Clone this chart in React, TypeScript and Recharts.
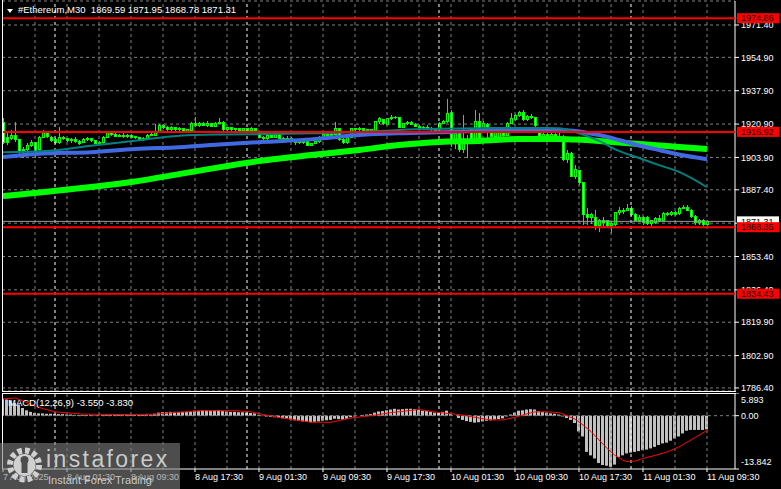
import React from "react";
import { ComposedChart, Bar, Line, XAxis, YAxis, ReferenceLine, CartesianGrid } from "recharts";

const FONT = "'Liberation Sans', Arial, sans-serif";

// --- price bars (M30), index 0 = 7 Aug 17:30, 176 = 11 Aug 09:30 ---
const opens = [
  1921.5, 1914.3, 1913.8, 1915.3, 1912.8, 1907.2, 1907.7, 1910.2, 1911.3, 1907.7,
  1914.3, 1916.4, 1914.3, 1912.8, 1911.3, 1914.3, 1913.3, 1912.3, 1913.0, 1912.0,
  1911.3, 1912.8, 1913.5, 1912.5, 1911.0, 1911.3, 1914.3, 1916.4, 1915.5, 1914.8,
  1915.3, 1914.5, 1915.3, 1914.3, 1914.0, 1912.8, 1913.5, 1915.3, 1915.3, 1916.9,
  1920.4, 1919.4, 1917.9, 1918.9, 1917.9, 1918.4, 1917.2, 1917.4, 1921.4, 1920.0,
  1921.4, 1920.4, 1921.0, 1919.9, 1921.4, 1921.9, 1917.9, 1918.9, 1917.9, 1918.4,
  1917.4, 1918.4, 1917.6, 1918.6, 1917.0, 1914.3, 1913.3, 1915.0, 1914.3, 1915.5,
  1913.8, 1912.8, 1913.8, 1911.8, 1911.3, 1911.8, 1911.8, 1910.2, 1911.0, 1911.8,
  1914.3, 1915.5, 1915.0, 1915.8, 1918.4, 1913.0, 1911.3, 1914.3, 1918.4, 1917.9,
  1918.6, 1917.4, 1917.9, 1917.4, 1922.0, 1923.0, 1920.9, 1923.5, 1924.5, 1924.0,
  1919.4, 1921.0, 1921.9, 1920.9, 1919.9, 1918.9, 1919.4, 1918.6, 1917.9, 1917.9,
  1921.4, 1922.0, 1927.0, 1912.8, 1916.0, 1907.7, 1911.3, 1917.9, 1912.3, 1922.0,
  1916.9, 1920.9, 1916.9, 1914.8, 1914.3, 1917.9, 1915.3, 1921.4, 1923.0, 1925.5,
  1927.0, 1923.0, 1925.0, 1924.0, 1917.9, 1914.3, 1915.8, 1914.5, 1915.8, 1914.8,
  1914.3, 1902.6, 1906.1, 1894.4, 1897.0, 1890.9, 1874.6, 1873.5, 1873.5, 1869.0,
  1871.5, 1871.5, 1869.0, 1869.5, 1875.6, 1876.1, 1877.1, 1878.1, 1874.6, 1872.0,
  1873.5, 1873.5, 1870.0, 1870.5, 1873.0, 1872.0, 1875.1, 1874.6, 1875.6, 1875.1,
  1878.1, 1878.6, 1877.1, 1873.8, 1870.5, 1871.5, 1869.59,
];
const highs = [
  1924.0, 1917.0, 1918.0, 1922.0, 1913.5, 1909.2, 1911.0, 1912.8, 1912.0, 1915.0,
  1918.0, 1917.4, 1915.0, 1913.8, 1919.4, 1915.0, 1914.0, 1914.0, 1914.3, 1913.0,
  1913.8, 1914.5, 1914.0, 1913.0, 1912.3, 1915.0, 1917.0, 1917.0, 1916.4, 1916.0,
  1916.4, 1916.0, 1916.0, 1915.0, 1914.5, 1914.3, 1916.0, 1916.4, 1920.9, 1921.0,
  1921.0, 1920.0, 1919.8, 1919.4, 1919.4, 1919.0, 1918.4, 1922.0, 1924.5, 1922.0,
  1922.0, 1922.3, 1921.5, 1922.0, 1924.0, 1922.3, 1919.4, 1919.4, 1919.0, 1918.9,
  1919.0, 1918.9, 1919.2, 1919.0, 1917.6, 1914.8, 1916.4, 1916.4, 1916.4, 1916.4,
  1914.3, 1914.8, 1914.3, 1912.3, 1912.5, 1912.3, 1912.3, 1911.5, 1912.3, 1914.8,
  1916.4, 1916.4, 1916.4, 1922.0, 1919.0, 1913.8, 1914.8, 1919.0, 1919.0, 1919.2,
  1919.0, 1918.4, 1918.4, 1922.5, 1924.5, 1923.5, 1924.0, 1925.5, 1925.0, 1924.5,
  1921.5, 1922.5, 1922.3, 1921.4, 1920.4, 1920.0, 1920.4, 1919.4, 1918.9, 1922.0,
  1923.0, 1933.5, 1928.0, 1918.0, 1917.0, 1925.5, 1915.3, 1918.9, 1928.0, 1926.5,
  1922.3, 1921.4, 1917.4, 1917.4, 1918.4, 1918.4, 1922.0, 1926.5, 1926.0, 1927.6,
  1928.1, 1925.5, 1926.0, 1924.5, 1918.4, 1916.9, 1916.9, 1916.9, 1916.4, 1916.9,
  1915.3, 1907.7, 1906.7, 1900.0, 1897.5, 1891.4, 1878.0, 1875.5, 1877.0, 1872.5,
  1873.5, 1872.0, 1871.5, 1876.0, 1878.6, 1878.1, 1880.0, 1879.0, 1875.6, 1874.6,
  1874.0, 1874.0, 1872.0, 1873.5, 1874.6, 1876.0, 1876.0, 1876.6, 1876.6, 1878.6,
  1879.8, 1879.6, 1877.6, 1874.6, 1872.6, 1872.3, 1871.95,
];
const lows = [
  1910.5, 1910.0, 1912.8, 1911.8, 1905.1, 1903.6, 1906.0, 1909.2, 1903.6, 1907.0,
  1913.8, 1914.0, 1911.8, 1910.5, 1910.8, 1912.8, 1911.8, 1911.5, 1911.3, 1910.0,
  1911.0, 1912.3, 1912.0, 1910.5, 1910.2, 1910.8, 1913.8, 1915.0, 1914.3, 1914.3,
  1914.0, 1914.0, 1913.8, 1913.5, 1912.3, 1912.5, 1913.0, 1914.8, 1914.8, 1916.4,
  1918.5, 1917.4, 1917.4, 1917.4, 1917.4, 1916.9, 1916.9, 1917.0, 1919.4, 1919.4,
  1920.0, 1919.4, 1919.4, 1919.4, 1921.0, 1917.4, 1917.4, 1917.0, 1917.0, 1917.0,
  1917.0, 1917.0, 1917.0, 1917.2, 1913.8, 1912.8, 1912.8, 1913.8, 1913.8, 1913.3,
  1912.3, 1912.3, 1912.3, 1910.2, 1910.5, 1910.5, 1909.7, 1909.7, 1910.5, 1911.3,
  1913.8, 1914.5, 1914.5, 1915.3, 1912.3, 1910.5, 1910.5, 1914.0, 1917.4, 1917.4,
  1917.0, 1916.9, 1916.9, 1916.9, 1921.0, 1920.4, 1920.4, 1923.0, 1923.5, 1918.9,
  1918.9, 1920.4, 1920.4, 1919.4, 1918.4, 1918.4, 1918.4, 1917.4, 1916.9, 1917.4,
  1921.0, 1921.4, 1909.2, 1908.0, 1906.7, 1906.0, 1903.6, 1911.8, 1911.8, 1911.3,
  1916.4, 1911.3, 1914.3, 1914.3, 1913.8, 1914.5, 1914.8, 1920.9, 1922.5, 1924.5,
  1922.5, 1922.5, 1923.5, 1919.4, 1913.8, 1913.8, 1913.8, 1914.0, 1914.3, 1913.3,
  1902.0, 1901.0, 1893.9, 1893.0, 1890.0, 1869.5, 1869.5, 1869.8, 1866.9, 1865.9,
  1867.9, 1868.0, 1865.4, 1869.0, 1874.6, 1875.0, 1876.6, 1874.0, 1871.5, 1871.0,
  1869.5, 1869.5, 1869.0, 1870.0, 1871.0, 1871.5, 1874.0, 1874.0, 1874.0, 1874.6,
  1877.5, 1876.6, 1873.0, 1869.5, 1869.5, 1869.0, 1868.78,
];
const closes = [
  1911.3, 1911.3, 1915.3, 1912.8, 1906.7, 1907.7, 1910.2, 1911.3, 1906.7, 1914.3,
  1916.9, 1914.8, 1912.3, 1911.3, 1914.3, 1913.3, 1912.3, 1913.0, 1912.0, 1911.0,
  1912.8, 1913.8, 1912.5, 1911.0, 1911.5, 1914.3, 1916.4, 1915.5, 1914.8, 1915.3,
  1914.5, 1915.3, 1914.3, 1914.5, 1912.8, 1913.5, 1915.3, 1915.8, 1916.9, 1920.4,
  1919.4, 1917.9, 1918.9, 1917.9, 1918.4, 1917.2, 1917.9, 1921.4, 1920.0, 1921.4,
  1920.4, 1921.0, 1919.9, 1921.4, 1921.9, 1917.9, 1918.9, 1917.9, 1918.4, 1917.4,
  1918.4, 1917.6, 1918.6, 1917.6, 1914.3, 1913.3, 1915.0, 1914.3, 1915.5, 1913.8,
  1912.8, 1913.8, 1912.8, 1911.3, 1911.8, 1911.3, 1910.2, 1911.0, 1911.8, 1914.3,
  1915.5, 1915.0, 1915.8, 1918.4, 1912.8, 1911.3, 1914.3, 1918.4, 1917.9, 1918.6,
  1917.4, 1917.9, 1917.4, 1922.0, 1923.5, 1921.0, 1923.5, 1924.5, 1924.0, 1919.4,
  1921.0, 1921.9, 1920.9, 1919.9, 1918.9, 1919.4, 1918.6, 1917.9, 1917.4, 1921.4,
  1922.3, 1926.5, 1912.8, 1916.0, 1907.7, 1911.3, 1912.8, 1912.3, 1922.0, 1911.8,
  1921.4, 1916.9, 1914.8, 1916.9, 1917.9, 1915.0, 1921.4, 1923.5, 1925.5, 1927.0,
  1923.0, 1925.0, 1924.0, 1920.0, 1914.3, 1915.8, 1914.5, 1915.8, 1914.8, 1914.3,
  1902.6, 1906.1, 1894.4, 1897.5, 1890.9, 1874.6, 1873.5, 1874.6, 1869.0, 1871.5,
  1870.5, 1869.0, 1870.0, 1875.6, 1876.6, 1877.1, 1878.1, 1874.6, 1872.0, 1873.5,
  1870.5, 1870.0, 1871.5, 1873.0, 1871.5, 1875.1, 1874.6, 1875.6, 1874.8, 1878.1,
  1878.6, 1877.1, 1873.8, 1870.5, 1871.5, 1869.8, 1871.31,
];

// moving averages, read at these bar indexes
const maIdx = [0, 11, 22, 33, 44, 55, 66, 77, 89, 99, 109, 119, 129, 139, 143, 149, 154, 159, 164, 169, 176];
const maSlow = [1884.2, 1886.4, 1888.8, 1891.6, 1895.4, 1899.2, 1902.6, 1905.1, 1907.7, 1910.2, 1911.8, 1912.3, 1913.3, 1913.3, 1913.0, 1912.3, 1911.5, 1910.8, 1910.0, 1909.2, 1908.2];
const maMid = [1904.1, 1906.0, 1906.6, 1908.2, 1909.1, 1910.6, 1911.9, 1913.1, 1915.3, 1916.2, 1916.7, 1917.4, 1917.6, 1917.9, 1917.4, 1915.3, 1912.8, 1910.0, 1907.7, 1905.4, 1903.0];
const maFast = [1906.6, 1907.2, 1909.9, 1912.4, 1915.0, 1915.6, 1915.8, 1916.2, 1916.9, 1917.9, 1918.5, 1918.8, 1918.9, 1918.8, 1916.9, 1912.3, 1907.2, 1903.6, 1900.0, 1896.5, 1888.7];

// MACD(12,26,9) histogram per bar, and signal line at these indexes
const macdHist = [
  4.4, 4.2, 4.0, 3.3, 2.9, 2.0, 1.4, 1.0, 0.7,
  0.6, 0.6, 0.5, 0.5, 0.4, 0.4, 0.4, 0.3, 0.3, 0.2, 0.2, 0.2,
  0.2, 0.2, 0.1, 0.1, 0.2, 0.3, 0.3, 0.3, 0.3, 0.3, 0.3, 0.3,
  0.2, 0.2, 0.2, 0.3, 0.3, 0.5, 0.8, 0.9, 0.9, 1.0, 1.0, 1.0,
  1.0, 1.0, 1.2, 1.3, 1.3, 1.4, 1.4, 1.3, 1.4, 1.5, 1.2, 1.1,
  1.0, 1.0, 0.9, 0.9, 0.8, 0.7, 0.6, 0.2, -0.1, -0.2, -0.3, -0.4,
  -0.5, -0.7, -0.8, -1.0, -1.2, -1.3, -1.5, -1.6, -1.7, -1.6, -1.5, -1.3,
  -1.2, -1.1, -0.8, -0.9, -1.0, -0.8, -0.4, -0.2, 0.0, 0.2, 0.3, 0.4,
  0.8, 1.1, 1.2, 1.4, 1.6, 1.8, 1.6, 1.7, 1.8, 1.8, 1.7, 1.5,
  1.3, 1.2, 1.0, 0.8, 0.9, 1.0, 1.3, 0.5, 0.0, -0.6, -1.1, -1.4,
  -1.6, -1.8, -1.7, -1.5, -1.3, -1.2, -1.0, -0.9, -0.7, -0.2, 0.3, 0.8,
  1.3, 1.4, 1.6, 1.7, 1.6, 1.2, 1.0, 0.8, 0.6, 0.5, 0.3, -0.2,
  -0.6, -1.1, -1.9, -4.1, -5.4, -9.4, -10.3, -11.1, -12.3, -12.8, -13.0, -13.3,
  -12.7, -10.7, -10.3, -9.8, -9.6, -9.4, -9.2, -8.9, -8.8, -8.5, -8.1, -7.6,
  -7.2, -7.0, -6.5, -5.9, -5.4, -4.6, -3.9, -3.7, -3.7, -3.7, -3.7, -3.55,
];
const signalIdx = [0, 3, 8, 10, 13, 20, 30, 38, 44, 50, 58, 62, 65, 70, 77, 82, 87, 92, 97, 104, 109, 114, 119, 122, 125, 128, 131, 133, 136, 139, 141, 143, 145, 147, 149, 151, 153, 155, 156, 158, 160, 163, 166, 169, 172, 176];
const signalVals = [4.4, 4.6, 2.6, 1.8, 1.0, 0.4, 0.3, 0.4, 0.9, 1.3, 1.3, 1.0, 0.3, -0.6, -1.7, -1.7, -0.6, 0.0, 0.8, 1.6, 0.8, 0.3, -0.6, -1.1, -1.1, -0.4, 0.5, 1.0, 1.0, 0.8, 0.0, -0.9, -2.4, -4.1, -6.3, -8.5, -10.3, -11.6, -11.9, -11.8, -11.1, -10.3, -9.4, -8.1, -6.3, -3.83];

// axes
const priceTicks = [1971.4, 1954.9, 1937.9, 1920.9, 1903.9, 1887.4, 1870.4, 1853.4, 1836.4, 1819.9, 1802.9, 1786.4];
const macdTicks = [5.893, 0, -13.842];
const timeTicks = [0, 16, 32, 48, 64, 80, 96, 112, 128, 144, 160, 176];
const timeLabels = ["7 Aug 2025", "8 Aug 01:30", "8 Aug 09:30", "8 Aug 17:30", "9 Aug 01:30", "9 Aug 09:30", "9 Aug 17:30", "10 Aug 01:30", "10 Aug 09:30", "10 Aug 17:30", "11 Aug 01:30", "11 Aug 09:30"];
const gridIdx = [8, 16, 24, 32, 40, 48, 56, 64, 72, 80, 88, 96, 104, 112, 120, 128, 136, 144, 152, 160, 168, 176];
const daySepIdx = [13, 61, 109, 157];

// horizontal levels
const levelPrices = [1974.86, 1916.92, 1868.35, 1834.43];
const lastPrice = 1871.31;

const X_DOMAIN = [-0.25, 183];
const Y_DOMAIN = [1784.85, 1983.63];

const priceData = opens.map((o, i) => ({
  i,
  o,
  h: highs[i],
  l: lows[i],
  c: closes[i],
  range: [lows[i], highs[i]],
  slow: null as number | null,
  mid: null as number | null,
  fast: null as number | null,
}));
maIdx.forEach((k, j) => {
  priceData[k].slow = maSlow[j];
  priceData[k].mid = maMid[j];
  priceData[k].fast = maFast[j];
});

const macdData = macdHist.map((v, i) => ({ i, hist: v, signal: null as number | null }));
signalIdx.forEach((k, j) => {
  macdData[k].signal = signalVals[j];
});

function Candle(props: any) {
  const { x, y, width, height, payload } = props;
  if (x == null || y == null) return null;
  const { o, h, l, c } = payload;
  const cx = Math.round(x + width / 2);
  const k = h > l ? height / (h - l) : 0;
  const yo = y + (h - o) * k;
  const yc = y + (h - c) * k;
  const top = Math.min(yo, yc);
  const bot = Math.max(yo, yc);
  const bear = c < o;
  return (
    <g shapeRendering="crispEdges">
      <line x1={cx + 0.5} x2={cx + 0.5} y1={y} y2={y + height} stroke="#00ff00" />
      <rect x={cx - 0.5} y={top} width={2} height={Math.max(bot - top, 0.5)} fill={bear ? "#ffffff" : "#000000"} stroke="#00ff00" />
    </g>
  );
}

function tag(text: string, bg: string) {
  return (props: any) => {
    const vb = props.viewBox || {};
    const right = (vb.x || 0) + (vb.width || 0);
    const yy = vb.y || 0;
    return (
      <g>
        <rect x={right + 2} y={yy - 5} width={42} height={10} fill={bg} />
        <text x={right + 6} y={yy} dy="0.35em" fontSize={9} fontFamily={FONT} fill="#000">
          {text}
        </text>
      </g>
    );
  };
}

function TimeTick(props: any) {
  const { x, y, payload } = props;
  const k = timeTicks.indexOf(payload.value);
  return (
    <text x={x} y={y + 3} dy="0.35em" fontSize={9} fontFamily={FONT} fill="#fff" textAnchor="start">
      {timeLabels[k]}
    </text>
  );
}

function MacdTick(props: any) {
  const { x, y, payload } = props;
  const v = payload.value;
  const shift = v > 0 ? 7 : v < 0 ? -7 : 0;
  const text = v === 0 ? "0.00" : String(v);
  return (
    <text x={x} y={y + shift} dy="0.35em" fontSize={9} fontFamily={FONT} fill="#fff" textAnchor="start">
      {text}
    </text>
  );
}

export default function App() {
  return (
    <div style={{ position: "fixed", left: 0, top: 0, width: 781, height: 489, background: "#000", overflow: "hidden", fontFamily: FONT }}>
      {/* main price panel */}
      <div style={{ position: "absolute", left: 0, top: 0 }}>
        <ComposedChart width={781} height={392} data={priceData} margin={{ top: 1, right: 0, bottom: 1, left: 2 }}>
          <XAxis dataKey="i" type="number" domain={X_DOMAIN} allowDataOverflow hide />
          <YAxis
            orientation="right"
            width={46}
            domain={Y_DOMAIN}
            allowDataOverflow
            ticks={priceTicks}
            interval={0}
            tickFormatter={(v: number) => v.toFixed(2)}
            tick={{ fill: "#fff", fontSize: 9, fontFamily: FONT }}
            stroke="#fff"
            tickSize={4}
            tickMargin={2}
          />
          <CartesianGrid vertical={false} stroke="#808080" strokeDasharray="3 3" />
          {gridIdx.map((g) => (
            <ReferenceLine key={"g" + g} x={g} stroke="#808080" strokeDasharray="3 3" />
          ))}
          {daySepIdx.map((d) => (
            <ReferenceLine key={"d" + d} x={d} stroke="#ffffff" strokeDasharray="3 3" />
          ))}
          <Line dataKey="slow" type="monotone" stroke="#00ff00" strokeWidth={6} dot={false} connectNulls isAnimationActive={false} />
          <Line dataKey="mid" type="monotone" stroke="#4169e1" strokeWidth={4} dot={false} connectNulls isAnimationActive={false} />
          <Line dataKey="fast" type="monotone" stroke="#008080" strokeWidth={2} dot={false} connectNulls isAnimationActive={false} />
          <Bar dataKey="range" barSize={3} shape={(p: any) => <Candle {...p} />} isAnimationActive={false} />
        </ComposedChart>
      </div>

      {/* price levels with their tags, drawn above the axis labels */}
      <div style={{ position: "absolute", left: 0, top: 0 }}>
        <ComposedChart width={781} height={392} data={priceData} margin={{ top: 1, right: 46, bottom: 1, left: 2 }}>
          <XAxis dataKey="i" type="number" domain={X_DOMAIN} allowDataOverflow hide />
          <YAxis domain={Y_DOMAIN} allowDataOverflow hide />
          <ReferenceLine y={levelPrices[0]} stroke="#ff0000" strokeWidth={2} label={tag(levelPrices[0].toFixed(2), "#ff0000")} />
          <ReferenceLine y={levelPrices[1]} stroke="#ff0000" strokeWidth={2} label={tag(levelPrices[1].toFixed(2), "#ff0000")} />
          <ReferenceLine y={lastPrice} stroke="#9a9a9a" label={tag(lastPrice.toFixed(2), "#ffffff")} />
          <ReferenceLine y={levelPrices[2]} stroke="#ff0000" strokeWidth={2} label={tag(levelPrices[2].toFixed(2), "#ff0000")} />
          <ReferenceLine y={levelPrices[3]} stroke="#ff0000" strokeWidth={2} label={tag(levelPrices[3].toFixed(2), "#ff0000")} />
        </ComposedChart>
      </div>

      {/* MACD panel */}
      <div style={{ position: "absolute", left: 0, top: 393 }}>
        <ComposedChart width={781} height={96} data={macdData} margin={{ top: 0, right: 0, bottom: 0, left: 2 }}>
          <XAxis
            dataKey="i"
            type="number"
            domain={X_DOMAIN}
            allowDataOverflow
            ticks={timeTicks}
            interval={0}
            height={20}
            stroke="#fff"
            tickSize={3}
            tick={<TimeTick />}
          />
          <YAxis
            orientation="right"
            width={46}
            domain={[-13.842, 5.893]}
            allowDataOverflow
            ticks={macdTicks}
            interval={0}
            stroke="#fff"
            tickSize={4}
            tickMargin={2}
            tick={<MacdTick />}
          />
          {gridIdx.map((g) => (
            <ReferenceLine key={"mg" + g} x={g} stroke="#808080" strokeDasharray="3 3" />
          ))}
          {daySepIdx.map((d) => (
            <ReferenceLine key={"md" + d} x={d} stroke="#ffffff" strokeDasharray="3 3" />
          ))}
          <ReferenceLine y={0} stroke="#808080" strokeDasharray="3 3" />
          <Bar dataKey="hist" fill="#c0c0c0" barSize={3} isAnimationActive={false} />
          <Line dataKey="signal" stroke="#ff0000" strokeWidth={1} dot={false} connectNulls isAnimationActive={false} />
        </ComposedChart>
      </div>

      {/* panel frames */}
      <div style={{ position: "absolute", left: 2, top: 0, width: 1, height: 392, background: "#fff" }} />
      <div style={{ position: "absolute", left: 2, top: 391, width: 734, height: 1, background: "#fff" }} />
      <div style={{ position: "absolute", left: 2, top: 393, width: 734, height: 1, background: "#fff" }} />
      <div style={{ position: "absolute", left: 2, top: 393, width: 1, height: 76, background: "#fff" }} />

      {/* title */}
      <svg width={14} height={14} style={{ position: "absolute", left: 5, top: 4 }}>
        <polygon points="2,5 8,5 5,9" fill="#fff" />
      </svg>
      <div style={{ position: "absolute", left: 18, top: 4, fontSize: 9.5, lineHeight: "12px", color: "#fff", whiteSpace: "pre" }}>
        {"#Ethereum,M30  1869.59 1871.95 1868.78 1871.31"}
      </div>
      <div style={{ position: "absolute", left: 8, top: 397, fontSize: 9.5, lineHeight: "12px", color: "#fff", whiteSpace: "pre" }}>
        {"MACD(12,26,9) -3.550 -3.830"}
      </div>

      {/* watermark */}
      <div style={{ position: "absolute", left: 0, top: 443, width: 180, height: 46, background: "rgba(128,128,128,0.6)" }}>
        <svg width={46} height={46} style={{ position: "absolute", left: 2, top: 0 }}>
          <circle cx={22.5} cy={22} r={14.5} fill="none" stroke="#d0d0d0" strokeWidth={6} strokeDasharray="4.5 3.1" />
          <circle cx={22.5} cy={22} r={11} fill="#d0d0d0" />
          <circle cx={22.5} cy={17} r={4} fill="#4d4d4d" />
          <rect x={19.5} y={20} width={6} height={10} fill="#4d4d4d" />
        </svg>
        <div style={{ position: "absolute", left: 46, top: 5, fontSize: 23, lineHeight: "23px", letterSpacing: 2.4, color: "rgba(215,215,215,0.92)" }}>
          instaforex
        </div>
        <div style={{ position: "absolute", left: 48, top: 32, fontSize: 11, lineHeight: "11px", color: "rgba(215,215,215,0.92)" }}>
          Instant Forex Trading
        </div>
      </div>
    </div>
  );
}
